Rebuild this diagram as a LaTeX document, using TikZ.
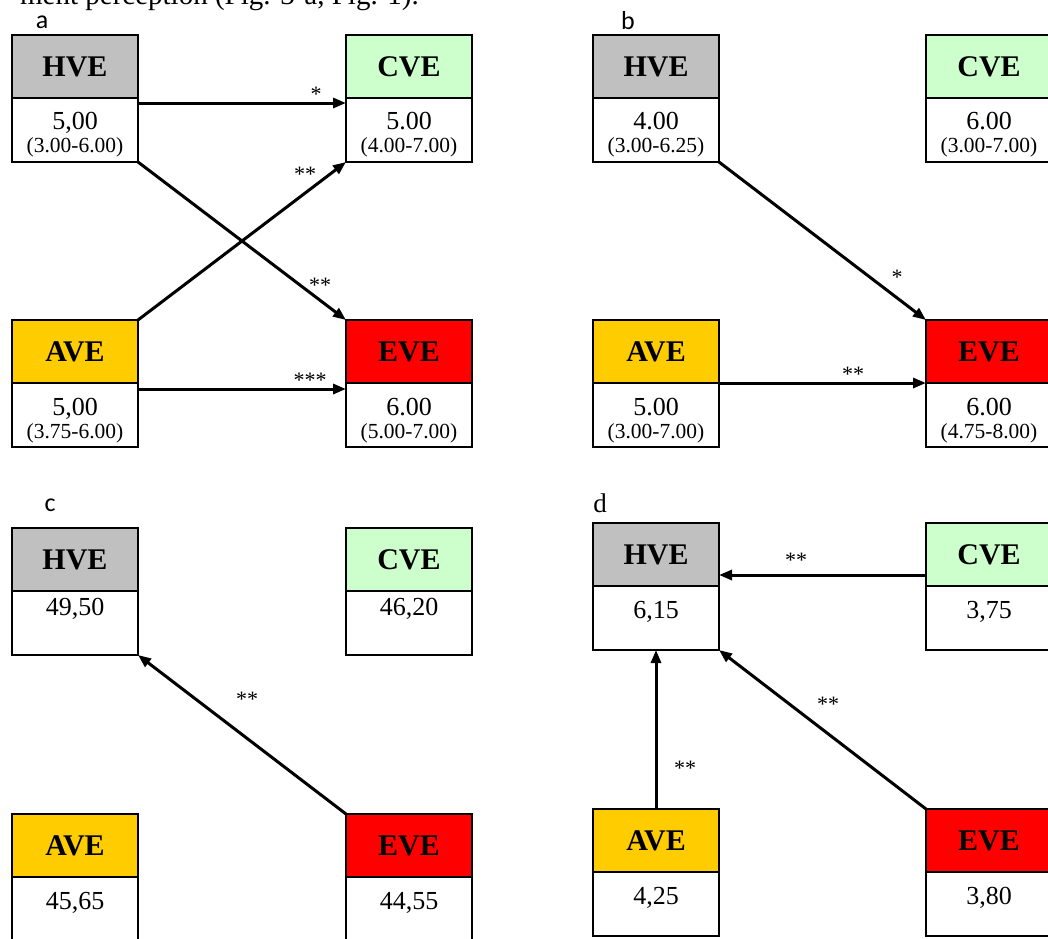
\documentclass[tikz,border=0pt]{standalone}
\usepackage{fontspec}
\setmainfont{Liberation Serif}
\newfontfamily\carlito{Carlito}
\usetikzlibrary{arrows.meta}
\definecolor{hgray}{HTML}{C0C0C0}
\definecolor{cgreen}{HTML}{CCFFCC}
\definecolor{ayellow}{HTML}{FFCC00}
\definecolor{ered}{HTML}{FF0000}
\newcommand\mkbox[5]{%
  \node[hdr, fill=#5] (#1) at (#2,#3) {#4};
  \node[valbox] (#1v) at (#1.south) {};
}
\tikzset{
  hdr/.style={draw, line width=1.5pt, minimum width=126pt, minimum height=63pt,
    anchor=north west, inner sep=0pt, outer sep=0pt,
    font=\fontsize{30}{32}\selectfont\bfseries},
  valbox/.style={draw, line width=1.5pt, fill=white, minimum width=126pt,
    minimum height=64pt, anchor=north, inner sep=0pt, outer sep=0pt},
  valtxt/.style={anchor=base, inner sep=0pt, font=\fontsize{26}{28}\selectfont},
  rngtxt/.style={anchor=base, inner sep=0pt, font=\fontsize{21.5}{24}\selectfont},
  conn/.style={line width=3pt, -{Triangle[length=13pt,width=10pt]}},
  sig/.style={inner sep=0pt, font=\fontsize{22}{24}\selectfont},
  plabel/.style={inner sep=0pt, font=\carlito\fontsize{26}{28}\selectfont},
}
\begin{document}
\begin{tikzpicture}[x=1pt,y=-1pt]
\clip (0,0) rectangle (1048,938);
\fill[white] (0,0) rectangle (1048,938);
\node[anchor=base east, inner sep=0pt, font=\fontsize{29}{31}\selectfont] (toptext) at (419,4) {ment perception (Fig. 3-a, Fig. 1).};
% panel labels
\node[plabel] (la) at (42,22) {a};
\node[plabel] (lb) at (628,21) {b};
\node[plabel] (lc) at (50,505) {c};
\node[plabel, font=\fontsize{27}{29}\selectfont] (ld) at (600,503) {d};
% ---------- panel a
\mkbox{aH}{12}{35}{HVE}{hgray}
\mkbox{aC}{346}{35}{CVE}{cgreen}
\mkbox{aA}{12}{320}{AVE}{ayellow}
\mkbox{aE}{346}{320}{EVE}{ered}
\node[valtxt] (aHt) at (75,129) {5,00};
\node[rngtxt] (aHr) at (75,152) {(3.00-6.00)};
\node[valtxt] (aCt) at (409,129) {5.00};
\node[rngtxt] (aCr) at (409,152) {(4.00-7.00)};
\node[valtxt] (aAt) at (75,415) {5,00};
\node[rngtxt] (aAr) at (75,438) {(3.75-6.00)};
\node[valtxt] (aEt) at (409,415) {6.00};
\node[rngtxt] (aEr) at (409,438) {(5.00-7.00)};
\draw[conn] ([yshift=-5pt]aHv.north east) -- ([yshift=-5pt]aCv.north west);
\draw[conn] (aA.north east) -- (aCv.south west);
\draw[conn] (aHv.south east) -- (aE.north west);
\draw[conn] ([yshift=-6pt]aAv.north east) -- ([yshift=-6pt]aEv.north west);
\node[sig] (sa1) at (316,94) {*};
\node[sig] (sa2) at (305,174) {**};
\node[sig] (sa3) at (320,285) {**};
\node[sig] (sa4) at (310,380) {***};
% ---------- panel b
\mkbox{bH}{593}{35}{HVE}{hgray}
\mkbox{bC}{926}{35}{CVE}{cgreen}
\mkbox{bA}{593}{320}{AVE}{ayellow}
\mkbox{bE}{926}{320}{EVE}{ered}
\node[valtxt] (bHt) at (656,129) {4.00};
\node[rngtxt] (bHr) at (656,152) {(3.00-6.25)};
\node[valtxt] (bCt) at (989,129) {6.00};
\node[rngtxt] (bCr) at (989,152) {(3.00-7.00)};
\node[valtxt] (bAt) at (656,415) {5.00};
\node[rngtxt] (bAr) at (656,438) {(3.00-7.00)};
\node[valtxt] (bEt) at (989,415) {6.00};
\node[rngtxt] (bEr) at (989,438) {(4.75-8.00)};
\draw[conn] (bHv.south east) -- (bE.north west);
\draw[conn] (bAv.north east) -- (bEv.north west);
\node[sig] (sb1) at (897,277) {*};
\node[sig] (sb2) at (853,374) {**};
% ---------- panel c
\mkbox{cH}{12}{528}{HVE}{hgray}
\mkbox{cC}{346}{528}{CVE}{cgreen}
\mkbox{cA}{12}{814}{AVE}{ayellow}
\mkbox{cE}{346}{814}{EVE}{ered}
\node[valtxt] (cHt) at (75,615) {49,50};
\node[valtxt] (cCt) at (409,615) {46,20};
\node[valtxt] (cAt) at (75,909) {45,65};
\node[valtxt] (cEt) at (409,909) {44,55};
\draw[conn] (cE.north west) -- (cHv.south east);
\node[sig] (sc1) at (247,699) {**};
% ---------- panel d
\mkbox{dH}{593}{523}{HVE}{hgray}
\mkbox{dC}{926}{523}{CVE}{cgreen}
\mkbox{dA}{593}{809}{AVE}{ayellow}
\mkbox{dE}{926}{809}{EVE}{ered}
\node[valtxt] (dHt) at (656,618) {6,15};
\node[valtxt] (dCt) at (989,618) {3,75};
\node[valtxt] (dAt) at (656,904) {4,25};
\node[valtxt] (dEt) at (989,904) {3,80};
\draw[conn] ([yshift=11pt]dCv.north west) -- ([yshift=11pt]dHv.north east);
\draw[conn] (dA.north) -- (dHv.south);
\draw[conn] (dE.north west) -- (dHv.south east);
\node[sig] (sd1) at (796,560) {**};
\node[sig] (sd2) at (685,768) {**};
\node[sig] (sd3) at (828,704) {**};
\end{tikzpicture}
\end{document}
